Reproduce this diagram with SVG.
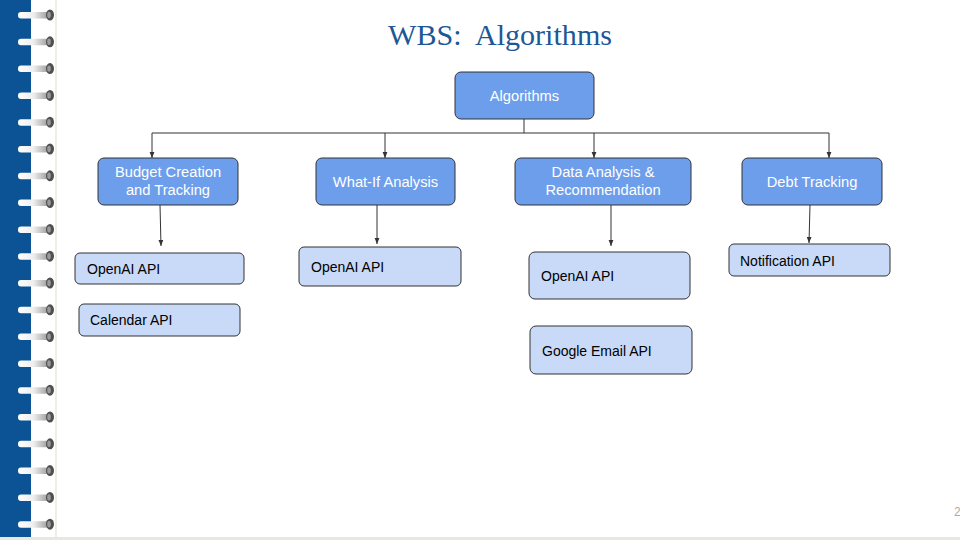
<svg xmlns="http://www.w3.org/2000/svg" width="960" height="540" viewBox="0 0 960 540">
<defs>
<style>
.main{fill:#6d9eeb;stroke:#333;stroke-width:1}
.sub{fill:#c9daf8;stroke:#333;stroke-width:1}
.mt{font-family:"Liberation Sans",Arial,sans-serif;font-size:14.7px;fill:#fff;text-anchor:middle}
.st{font-family:"Liberation Sans",Arial,sans-serif;font-size:14px;fill:#000}
.conn{stroke:#333;stroke-width:1;fill:none}
</style>
<marker id="arr" viewBox="0 0 10 10" refX="10" refY="5" markerWidth="6" markerHeight="6" orient="auto"><path d="M0,1 L10,5 L0,9 z" fill="#333"/></marker>
<linearGradient id="ring" x1="0" y1="0" x2="1" y2="0">
<stop offset="0" stop-color="#fff"/><stop offset="0.5" stop-color="#eee"/><stop offset="1" stop-color="#999"/>
</linearGradient>
<g id="coil">
<rect x="18" y="-3" width="31" height="6.5" rx="3" fill="url(#ring)"/>
<ellipse cx="50" cy="0" rx="4" ry="5.5" fill="#505050"/>
<ellipse cx="49" cy="0" rx="1.8" ry="3.2" fill="#9a9a9a"/>
</g>
</defs>
<rect width="960" height="540" fill="#fff"/>
<rect x="0" y="0" width="31" height="540" fill="#0b5394"/>
<rect x="31" y="0" width="24" height="540" fill="#fff"/>
<rect x="55" y="0" width="2" height="540" fill="#eeeee6"/>
<rect x="0" y="537" width="960" height="3" fill="#e8e8e0"/>
<g>
<use href="#coil" y="15"/><use href="#coil" y="41.8"/><use href="#coil" y="68.6"/><use href="#coil" y="95.4"/><use href="#coil" y="122.2"/>
<use href="#coil" y="149"/><use href="#coil" y="175.8"/><use href="#coil" y="202.6"/><use href="#coil" y="229.4"/><use href="#coil" y="256.2"/>
<use href="#coil" y="283"/><use href="#coil" y="309.8"/><use href="#coil" y="336.6"/><use href="#coil" y="363.4"/><use href="#coil" y="390.2"/>
<use href="#coil" y="417"/><use href="#coil" y="443.8"/><use href="#coil" y="470.6"/><use href="#coil" y="497.4"/><use href="#coil" y="524.2"/>
</g>
<text x="500" y="45" font-family="Georgia,'Liberation Serif',serif" font-size="29" fill="#1c5796" text-anchor="middle" textLength="224" lengthAdjust="spacingAndGlyphs" xml:space="preserve">WBS:  Algorithms</text>
<text x="954" y="516" font-family="'Liberation Sans',Arial,sans-serif" font-size="12" fill="#aaa">2</text>

<g id="connectors">
<path class="conn" d="M524,119 V133 M152,133 H829"/>
<path class="conn" marker-end="url(#arr)" d="M152,133 V158"/>
<path class="conn" marker-end="url(#arr)" d="M385,133 V158"/>
<path class="conn" marker-end="url(#arr)" d="M594,133 V158"/>
<path class="conn" marker-end="url(#arr)" d="M829,133 V158"/>
<path class="conn" marker-end="url(#arr)" d="M160,205 L161,246"/>
<path class="conn" marker-end="url(#arr)" d="M377,205 V244"/>
<path class="conn" marker-end="url(#arr)" d="M611,205 V246"/>
<path class="conn" marker-end="url(#arr)" d="M810,205 L809,243"/>
</g>

<g id="algorithms"><rect class="main" x="455" y="72" width="139" height="47" rx="6"/><text class="mt" x="524.5" y="101">Algorithms</text></g>
<g id="budget"><rect class="main" x="98" y="158" width="140" height="47" rx="6"/><text class="mt" x="168" y="177">Budget Creation</text><text class="mt" x="168" y="195">and Tracking</text></g>
<g id="whatif"><rect class="main" x="316" y="158" width="139" height="47" rx="6"/><text class="mt" x="385.5" y="187">What-If Analysis</text></g>
<g id="data"><rect class="main" x="515" y="158" width="176" height="47" rx="6"/><text class="mt" x="603" y="177">Data Analysis &amp;</text><text class="mt" x="603" y="195">Recommendation</text></g>
<g id="debt"><rect class="main" x="742" y="158" width="140" height="47" rx="6"/><text class="mt" x="812" y="187">Debt Tracking</text></g>

<g id="openai1"><rect class="sub" x="75" y="253" width="169" height="31" rx="5"/><text class="st" x="87" y="274">OpenAI API</text></g>
<g id="calendar"><rect class="sub" x="79" y="304" width="161" height="32" rx="5"/><text class="st" x="90" y="325">Calendar API</text></g>
<g id="openai2"><rect class="sub" x="299" y="247" width="162" height="39" rx="5"/><text class="st" x="311" y="272">OpenAI API</text></g>
<g id="openai3"><rect class="sub" x="529" y="252" width="161" height="47" rx="6"/><text class="st" x="541" y="281">OpenAI API</text></g>
<g id="gmail"><rect class="sub" x="530" y="326" width="162" height="48" rx="6"/><text class="st" x="542" y="356">Google Email API</text></g>
<g id="notif"><rect class="sub" x="729" y="244" width="161" height="32" rx="5"/><text class="st" x="740" y="266">Notification API</text></g>
</svg>
